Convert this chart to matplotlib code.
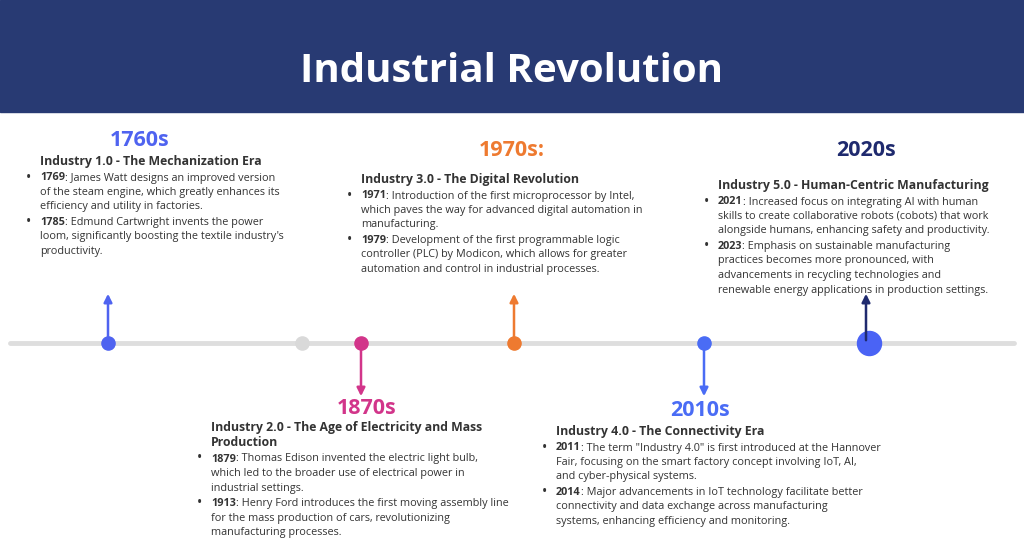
import matplotlib.pyplot as plt
from matplotlib.patches import Rectangle, FancyArrowPatch

plt.rcParams['font.family'] = 'Open Sans'

# Timeline data
title = "Industrial Revolution"
era_labels = ["1760s", "1870s", "1970s:", "2010s", "2020s"]
era_pos = [108, 361, 514, 704, 869]          # position along the timeline
era_colors = ["#4f63f0", "#d2358a", "#ee7a30", "#4a6cf5", "#1f2a6e"]
dot_colors = ["#4f63f0", "#d2358a", "#ee7a30", "#4a6cf5", "#4a63f5"]
era_dir = [1, -1, 1, -1, 1]                  # 1 = text above, -1 = below
extra_dot = 302

headings = [
    ["Industry 1.0 - The Mechanization Era"],
    ["Industry 2.0 - The Age of Electricity and Mass", "Production"],
    ["Industry 3.0 - The Digital Revolution"],
    ["Industry 4.0 - The Connectivity Era"],
    ["Industry 5.0 - Human-Centric Manufacturing"],
]
bullets = [
    [("1769", [": James Watt designs an improved version", "of the steam engine, which greatly enhances its",
               "efficiency and utility in factories."]),
     ("1785", [": Edmund Cartwright invents the power", "loom, significantly boosting the textile industry's",
               "productivity."])],
    [("1879", [": Thomas Edison invented the electric light bulb,", "which led to the broader use of electrical power in",
               "industrial settings."]),
     ("1913", [": Henry Ford introduces the first moving assembly line", "for the mass production of cars, revolutionizing",
               "manufacturing processes."])],
    [("1971", [": Introduction of the first microprocessor by Intel,", "which paves the way for advanced digital automation in",
               "manufacturing."]),
     ("1979", [": Development of the first programmable logic", "controller (PLC) by Modicon, which allows for greater",
               "automation and control in industrial processes."])],
    [("2011", [': The term "Industry 4.0" is first introduced at the Hannover', "Fair, focusing on the smart factory concept involving IoT, AI,",
               "and cyber-physical systems."]),
     ("2014", [": Major advancements in IoT technology facilitate better", "connectivity and data exchange across manufacturing",
               "systems, enhancing efficiency and monitoring."])],
    [("2021", [": Increased focus on integrating AI with human", "skills to create collaborative robots (cobots) that work",
               "alongside humans, enhancing safety and productivity."]),
     ("2023", [": Emphasis on sustainable manufacturing", "practices becomes more pronounced, with",
               "advancements in recycling technologies and",
               "renewable energy applications in production settings."])],
]

# layout: year label centre, heading start
year_xy = [(140, 141), (367, 409), (512, 151), (700, 410), (866, 151)]
head_xy = [(40, 161), (211, 427), (361, 179), (556, 431), (718, 185)]

fig = plt.figure(figsize=(10.24, 5.46), dpi=100)
ax = fig.add_axes([0, 0, 1, 1])
ax.set_xlim(0, 1024)
ax.set_ylim(546, 0)
ax.axis('off')

ax.add_patch(Rectangle((0, 0), 1024, 112, color="#283a73", zorder=0))
ax.text(512, 72, title, color="white", fontsize=29, fontweight='bold',
        ha='center', va='center')

ax.plot([10, 1014], [343, 343], color="#dedede", lw=3.5, zorder=1, solid_capstyle='round')
ax.scatter([extra_dot], [343], s=90, color="#d9d9d9", zorder=2)

renderer = fig.canvas.get_renderer()
for i, x in enumerate(era_pos):
    c = era_colors[i]
    size = 300 if i == 4 else 90
    ax.scatter([x], [343], s=size, color=dot_colors[i], zorder=3)
    ax_x = x - 3 if i == 4 else x
    if era_dir[i] == 1:
        y0, y1 = (343 if i == 4 else 340), 291
    else:
        y0, y1 = 346, 399
    ax.add_patch(FancyArrowPatch((ax_x, y0), (ax_x, y1), arrowstyle='-|>', mutation_scale=12,
                                 color=c, lw=1.8, zorder=4 if i == 4 else 2))
    yx, yy = year_xy[i]
    ax.text(yx, yy, era_labels[i], color=c, fontsize=15.5, fontweight='bold', ha='center', va='center')

    hx, hy = head_xy[i]
    for k, h in enumerate(headings[i]):
        ax.text(hx, hy + k * 15, h, color="#333333", fontsize=8.8, fontweight='bold', ha='left', va='center')
    y = hy + len(headings[i]) * 15 + 2
    for year, lines in bullets[i]:
        ax.text(hx - 14, y, "•", color="#333333", fontsize=10, ha='left', va='center')
        t = ax.text(hx, y, year, color="#333333", fontsize=7.8, fontweight='bold', ha='left', va='center')
        bb = t.get_window_extent(renderer)
        ax.text(bb.x1, y, lines[0], color="#333333", fontsize=7.8, ha='left', va='center')
        for ln in lines[1:]:
            y += 14.5
            ax.text(hx, y, ln, color="#333333", fontsize=7.8, ha='left', va='center')
        y += 15.5

fig.savefig("out.png", dpi=100)
